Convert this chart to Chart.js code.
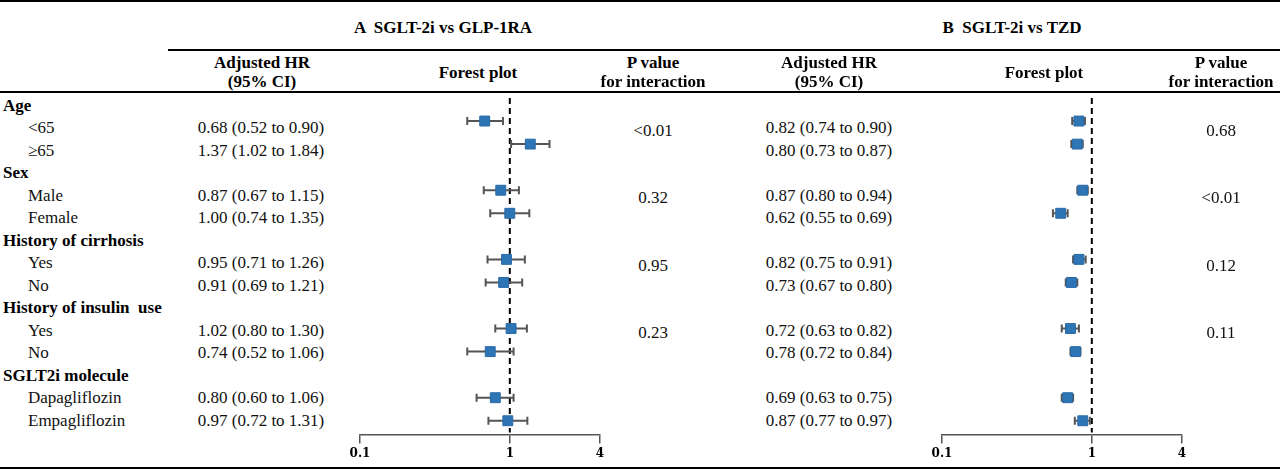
<!DOCTYPE html>
<html>
<head>
<meta charset="utf-8">
<script src="https://cdn.jsdelivr.net/npm/chart.js@4.4.1/dist/chart.umd.min.js"></script>
<style>
  html, body { margin: 0; padding: 0; background: #fff; }
  #page { position: relative; width: 1280px; height: 472px; overflow: hidden;
          font-family: 'Liberation Serif', 'Times New Roman', serif; font-size: 17px; color: #111; }
  .t { position: absolute; white-space: pre; line-height: 20px; transform: translate(0, -50%); }
  .c { transform: translate(-50%, -50%); text-align: center; }
  .b { font-weight: bold; color: #000; }
  .rule { position: absolute; background: #000; }
  canvas { position: absolute; }
</style>
</head>
<body>
<div id="page">
  <div class="rule" style="left:0;top:0;width:1280px;height:2px"></div>
  <div class="rule" style="left:168px;top:49px;width:1112px;height:2px"></div>
  <div class="rule" style="left:0;top:91px;width:1280px;height:2px"></div>
  <div class="rule" style="left:0;top:467px;width:1280px;height:2px"></div>
  <canvas id="plotA" width="300" height="400" style="left:330px;top:88px"></canvas>
  <canvas id="plotB" width="300" height="400" style="left:912px;top:88px"></canvas>
</div>
<script>
// ---------------------
// Data
// ---------------------
const groups = ['Age', 'Sex', 'History of cirrhosis', 'History of insulin  use', 'SGLT2i molecule'];
const subgroups = ['<65', '\u226565', 'Male', 'Female', 'Yes', 'No', 'Yes', 'No', 'Dapagliflozin', 'Empagliflozin'];

// A: SGLT-2i vs GLP-1RA
const hrA = [0.68, 1.37, 0.87, 1.00, 0.95, 0.91, 1.02, 0.74, 0.80, 0.97];
const loA = [0.52, 1.02, 0.67, 0.74, 0.71, 0.69, 0.80, 0.52, 0.60, 0.72];
const hiA = [0.90, 1.84, 1.15, 1.35, 1.26, 1.21, 1.30, 1.06, 1.06, 1.31];
const pA = ['<0.01', '0.32', '0.95', '0.23'];

// B: SGLT-2i vs TZD
const hrB = [0.82, 0.80, 0.87, 0.62, 0.82, 0.73, 0.72, 0.78, 0.69, 0.87];
const loB = [0.74, 0.73, 0.80, 0.55, 0.75, 0.67, 0.63, 0.72, 0.63, 0.77];
const hiB = [0.90, 0.87, 0.94, 0.69, 0.91, 0.80, 0.82, 0.84, 0.75, 0.97];
const pB = ['0.68', '<0.01', '0.12', '0.11'];

const xTicks = [0.1, 1, 4];

// row index of each subgroup (group headers sit on 0, 3, 6, 9, 12)
const rows = [1, 2, 4, 5, 7, 8, 10, 11, 13, 14];

// ---------------------
// Table text
// ---------------------
const page = document.getElementById('page');
function addText(str, x, y, cls) {
    const d = document.createElement('div');
    d.className = 't ' + (cls || '');
    d.textContent = str;
    d.style.left = x + 'px';
    d.style.top = y + 'px';
    page.appendChild(d);
}
const rowY = i => 105.5 + 22.5 * i;
const fmt = (h, l, u) => h.toFixed(2) + ' (' + l.toFixed(2) + ' to ' + u.toFixed(2) + ')';

addText('A  SGLT-2i vs GLP-1RA', 443, 28, 'b c');
addText('B  SGLT-2i vs TZD', 1012, 28, 'b c');

[[262, 478, 653], [829, 1044, 1221]].forEach(([ci, fp, pv]) => {
    addText('Adjusted HR', ci, 63, 'b c');
    addText('(95% CI)', ci, 82, 'b c');
    addText('Forest plot', fp, 73, 'b c');
    addText('P value', pv, 63, 'b c');
    addText('for interaction', pv, 82, 'b c');
});

groups.forEach((g, k) => addText(g, 3, rowY(k * 3), 'b'));
subgroups.forEach((s, i) => {
    addText(s, 28, rowY(rows[i]));
    addText(fmt(hrA[i], loA[i], hiA[i]), 261, rowY(rows[i]), 'c');
    addText(fmt(hrB[i], loB[i], hiB[i]), 829, rowY(rows[i]), 'c');
});
pA.forEach((p, k) => addText(p, 653, rowY(k * 3 + 1) + 2.5, 'c'));
pB.forEach((p, k) => addText(p, 1221, rowY(k * 3 + 1) + 2.5, 'c'));

// ---------------------
// Forest plots
// ---------------------
const forestDecor = {
    id: 'forestDecor',
    beforeDatasetsDraw(chart) {
        const { ctx, chartArea, scales: { x, y } } = chart;
        const ds = chart.data.datasets[0];
        ctx.save();
        // null line at HR = 1
        const x1 = x.getPixelForValue(1);
        ctx.strokeStyle = '#000';
        ctx.lineWidth = 2;
        ctx.setLineDash([6, 4]);
        ctx.beginPath();
        ctx.moveTo(x1, chartArea.top);
        ctx.lineTo(x1, chartArea.bottom - 2);
        ctx.stroke();
        ctx.setLineDash([]);
        // confidence intervals
        ctx.strokeStyle = '#555';
        ctx.lineWidth = 2;
        ds.data.forEach((pt, i) => {
            const py = y.getPixelForValue(pt.y);
            const a = x.getPixelForValue(ds.lo[i]);
            const b = x.getPixelForValue(ds.hi[i]);
            ctx.beginPath();
            ctx.moveTo(a, py); ctx.lineTo(b, py);
            ctx.moveTo(a, py - 4); ctx.lineTo(a, py + 4);
            ctx.moveTo(b, py - 4); ctx.lineTo(b, py + 4);
            ctx.stroke();
        });
        ctx.restore();
    }
};

function forest(id, hr, lo, hi) {
    new Chart(document.getElementById(id), {
        type: 'scatter',
        data: {
            datasets: [{
                data: hr.map((v, i) => ({ x: v, y: rows[i] })),
                lo, hi,
                pointStyle: 'rect',
                pointRadius: 7,
                backgroundColor: '#2E75B6',
                borderColor: '#2A69A6',
                borderWidth: 1
            }]
        },
        options: {
            responsive: false,
            animation: false,
            layout: { padding: { left: 30, right: 30, top: 10, bottom: 24 } },
            plugins: { legend: { display: false }, tooltip: { enabled: false } },
            scales: {
                x: {
                    type: 'logarithmic', min: 0.1, max: 4,
                    afterBuildTicks: s => { s.ticks = xTicks.map(v => ({ value: v })); },
                    grid: { display: true, drawOnChartArea: false, drawTicks: true, tickLength: 9,
                            color: '#555', lineWidth: 1.5 },
                    border: { display: true, color: '#555', width: 1.5 },
                    ticks: {
                        callback: v => String(v), autoSkip: false, maxRotation: 0, padding: 3,
                        color: '#000', font: { family: "'DejaVu Serif', serif", size: 12, weight: 'bold' }
                    }
                },
                y: { type: 'linear', min: 0, max: 14.6, reverse: true, display: false }
            }
        },
        plugins: [forestDecor]
    });
}

forest('plotA', hrA, loA, hiA);
forest('plotB', hrB, loB, hiB);
</script>
</body>
</html>
